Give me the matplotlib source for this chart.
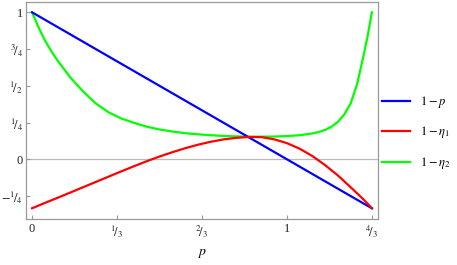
import matplotlib
matplotlib.use("Agg")
import matplotlib.pyplot as plt
from matplotlib.lines import Line2D

plt.rcParams['font.family'] = ['Liberation Serif', 'DejaVu Serif']
plt.rcParams['mathtext.fontset'] = 'stix'

# Data
blue_p = [0.0, 4/3]
blue_v = [1.0, -1/3]

red_p = [0.0, 0.05, 0.1, 0.15, 0.2, 0.25, 0.3, 0.35, 0.4, 0.45, 0.5, 0.55, 0.6,
         0.65, 0.7, 0.75, 0.8, 0.85, 0.9, 0.95, 1.0, 1.05, 1.1, 1.15, 1.2, 1.25,
         1.3, 1.3333]
red_v = [-0.333, -0.297, -0.262, -0.226, -0.19, -0.154, -0.118, -0.082, -0.047,
         -0.013, 0.019, 0.048, 0.075, 0.099, 0.119, 0.135, 0.146, 0.152, 0.151,
         0.136, 0.11, 0.072, 0.022, -0.04, -0.11, -0.19, -0.272, -0.333]

green_p = [0.0, 0.025, 0.05, 0.075, 0.1, 0.15, 0.2, 0.25, 0.3, 0.35, 0.4, 0.45,
           0.5, 0.55, 0.6, 0.65, 0.7, 0.75, 0.8, 0.85, 0.9, 0.95, 1.0, 1.05, 1.1,
           1.125, 1.15, 1.175, 1.2, 1.225, 1.25, 1.275, 1.3, 1.3167, 1.3333]
green_v = [1.0, 0.9, 0.81, 0.737, 0.672, 0.557, 0.462, 0.38, 0.32, 0.278, 0.248,
           0.222, 0.203, 0.189, 0.178, 0.17, 0.164, 0.159, 0.156, 0.154, 0.154,
           0.155, 0.158, 0.164, 0.176, 0.186, 0.2, 0.222, 0.255, 0.305, 0.38,
           0.51, 0.7, 0.84, 1.0]

labels = [r'$1-p$', r'$1-\eta_1$', r'$1-\eta_2$']
colors = ['#0000ff', '#ff0000', '#00ff00']

xticks = [0, 1/3, 2/3, 1, 4/3]
xticklabels = ['0', r'${}^{1}\!/{}_{3}$', r'${}^{2}\!/{}_{3}$', '1', r'${}^{4}\!/{}_{3}$']
yticks = [-0.25, 0, 0.25, 0.5, 0.75, 1]
yticklabels = [r'$-{}^{1}\!/{}_{4}$', '0', r'${}^{1}\!/{}_{4}$', r'${}^{1}\!/{}_{2}$',
               r'${}^{3}\!/{}_{4}$', '1']

fig = plt.figure(figsize=(4.57, 2.65), dpi=100)
ax = fig.add_axes([0.0562, 0.1736, 0.7708, 0.8204])

ax.axhline(0, color='#bbbbbb', lw=0.9, zorder=1)
lw = 1.6
ax.plot(blue_p, blue_v, color=colors[0], lw=lw, zorder=3)
ax.plot(red_p, red_v, color=colors[1], lw=lw, zorder=3)
ax.plot(green_p, green_v, color=colors[2], lw=lw, zorder=2)

ax.set_xlim(-0.025, 1.357)
ax.set_ylim(-0.406, 1.073)

ax.set_xticks(xticks)
ax.set_xticklabels(xticklabels)
ax.set_yticks(yticks)
ax.set_yticklabels(yticklabels)
ax.tick_params(direction='in', length=3, width=0.8, color='#999999',
               labelsize=9, labelcolor='#222222', pad=3)
ax.tick_params(axis='y', pad=2)
for s in ax.spines.values():
    s.set_color('#999999')
    s.set_linewidth(0.9)

ax.set_xlabel(r'$p$', fontsize=10, labelpad=5)

handles = [Line2D([], [], color=c, lw=lw) for c in colors]
fig.legend(handles, labels, loc='center left', bbox_to_anchor=(0.836, 0.5),
           frameon=False, fontsize=9, handlelength=2.2, labelspacing=1.15,
           handletextpad=0.8, borderpad=0, borderaxespad=0)

fig.savefig('out.png', dpi=100)
